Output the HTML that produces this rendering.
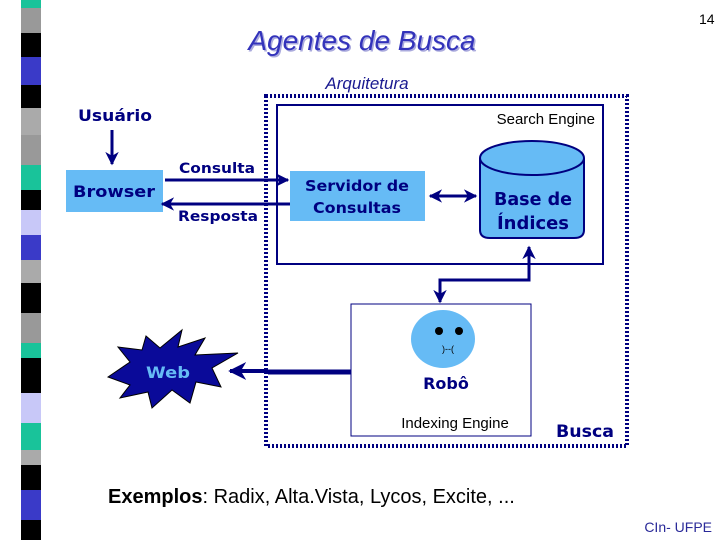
<!DOCTYPE html>
<html><head><meta charset="utf-8"><style>
html,body{margin:0;padding:0;background:#fff;}
svg{display:block;}
text{font-family:"Liberation Sans",sans-serif;}
.v{font-family:"DejaVu Sans","Liberation Sans",sans-serif;font-weight:bold;}
</style></head><body>
<svg width="720" height="540" viewBox="0 0 720 540" xmlns="http://www.w3.org/2000/svg">
<defs>
<marker id="ah" viewBox="0 0 10 10" refX="9" refY="5" markerWidth="4.5" markerHeight="4.5" orient="auto-start-reverse"><path d="M0,0 L10,5 L0,10 L3,5 z" fill="#000080"/></marker>
</defs>
<g>
<rect x="21" y="0" width="20" height="8" fill="#19c39a"/>
<rect x="21" y="8" width="20" height="25" fill="#999"/>
<rect x="21" y="33" width="20" height="24" fill="#000"/>
<rect x="21" y="57" width="20" height="28" fill="#3a3ac8"/>
<rect x="21" y="85" width="20" height="23" fill="#000"/>
<rect x="21" y="108" width="20" height="27" fill="#aaa"/>
<rect x="21" y="135" width="20" height="30" fill="#999"/>
<rect x="21" y="165" width="20" height="25" fill="#19c39a"/>
<rect x="21" y="190" width="20" height="20" fill="#000"/>
<rect x="21" y="210" width="20" height="25" fill="#c8c8f8"/>
<rect x="21" y="235" width="20" height="25" fill="#3a3ac8"/>
<rect x="21" y="260" width="20" height="23" fill="#aaa"/>
<rect x="21" y="283" width="20" height="30" fill="#000"/>
<rect x="21" y="313" width="20" height="30" fill="#999"/>
<rect x="21" y="343" width="20" height="15" fill="#19c39a"/>
<rect x="21" y="358" width="20" height="35" fill="#000"/>
<rect x="21" y="393" width="20" height="30" fill="#c8c8f8"/>
<rect x="21" y="423" width="20" height="27" fill="#19c39a"/>
<rect x="21" y="450" width="20" height="15" fill="#aaa"/>
<rect x="21" y="465" width="20" height="25" fill="#000"/>
<rect x="21" y="490" width="20" height="30" fill="#3a3ac8"/>
<rect x="21" y="520" width="20" height="20" fill="#000"/>
</g>
<text x="699" y="24" font-family="Liberation Serif" font-size="14" fill="#000">14</text>
<text x="362" y="50" font-size="28" font-style="italic" fill="#aaaadd" text-anchor="middle" dx="1.5" dy="1.5">Agentes de Busca</text>
<text x="362" y="50" font-size="28" font-style="italic" fill="#3333bb" text-anchor="middle">Agentes de Busca</text>
<text x="367" y="89" font-size="17" font-style="italic" fill="#1a1a90" text-anchor="middle">Arquitetura</text>
<rect x="266" y="96" width="361" height="350" fill="none" stroke="#000080" stroke-width="4" stroke-dasharray="2 2"/>
<rect x="277" y="105" width="326" height="159" fill="none" stroke="#000080" stroke-width="2"/>
<text x="595" y="124" font-size="15" fill="#000" text-anchor="end">Search Engine</text>
<rect x="290" y="171" width="135" height="50" fill="#66bbf5"/>
<text class="v" x="357" y="191" font-size="15" fill="#000080" text-anchor="middle" textLength="104" lengthAdjust="spacingAndGlyphs">Servidor de</text>
<text class="v" x="357" y="213" font-size="15" fill="#000080" text-anchor="middle" textLength="88" lengthAdjust="spacingAndGlyphs">Consultas</text>
<path d="M480,158 L480,230 Q480,238 490,238 L574,238 Q584,238 584,230 L584,158" fill="#66bbf5" stroke="#000080" stroke-width="2"/>
<ellipse cx="532" cy="158" rx="52" ry="17" fill="#66bbf5" stroke="#000080" stroke-width="2"/>
<text class="v" x="533" y="205" font-size="18" fill="#000080" text-anchor="middle" textLength="78" lengthAdjust="spacingAndGlyphs">Base de</text>
<text class="v" x="533" y="229" font-size="18" fill="#000080" text-anchor="middle" textLength="72" lengthAdjust="spacingAndGlyphs">Índices</text>
<line x1="430" y1="196" x2="476" y2="196" stroke="#000080" stroke-width="3" marker-start="url(#ah)" marker-end="url(#ah)"/>
<text class="v" x="115" y="121" font-size="16" fill="#000080" text-anchor="middle" textLength="74" lengthAdjust="spacingAndGlyphs">Usuário</text>
<line x1="112" y1="130" x2="112" y2="164" stroke="#000080" stroke-width="3" marker-end="url(#ah)"/>
<rect x="66" y="170" width="97" height="42" fill="#66bbf5"/>
<text class="v" x="114" y="197" font-size="16" fill="#000080" text-anchor="middle" textLength="82" lengthAdjust="spacingAndGlyphs">Browser</text>
<text class="v" x="217" y="173" font-size="14" fill="#000080" text-anchor="middle" textLength="76" lengthAdjust="spacingAndGlyphs">Consulta</text>
<text class="v" x="218" y="221" font-size="14" fill="#000080" text-anchor="middle" textLength="80" lengthAdjust="spacingAndGlyphs">Resposta</text>
<line x1="165" y1="180" x2="288" y2="180" stroke="#000080" stroke-width="3" marker-end="url(#ah)"/>
<line x1="290" y1="204" x2="162" y2="204" stroke="#000080" stroke-width="3" marker-end="url(#ah)"/>
<polyline points="529,247 529,280 440,280 440,302" fill="none" stroke="#000080" stroke-width="3" marker-start="url(#ah)" marker-end="url(#ah)"/>
<rect x="351" y="304" width="180" height="132" fill="#fff" stroke="#000080" stroke-width="1"/>
<ellipse cx="443" cy="339" rx="32" ry="29" fill="#66bbf5"/>
<circle cx="439" cy="331" r="4" fill="#000"/>
<circle cx="459" cy="331" r="4" fill="#000"/>
<text x="448" y="352" font-size="9" fill="#000" text-anchor="middle">)--(</text>
<text class="v" x="446" y="389" font-size="16" fill="#000080" text-anchor="middle">Robô</text>
<text x="455" y="428" font-size="15" fill="#000" text-anchor="middle">Indexing Engine</text>
<text class="v" x="585" y="437" font-size="17" fill="#000080" text-anchor="middle" textLength="58" lengthAdjust="spacingAndGlyphs">Busca</text>
<line x1="351" y1="372" x2="268" y2="372" stroke="#000080" stroke-width="5"/>
<line x1="268" y1="371" x2="230" y2="371" stroke="#000080" stroke-width="4" marker-end="url(#ah)"/>
<path d="M108,377 L130,362 L118,347 L142,350 L146,336 L160,348 L182,330 L178,347 L205,338 L195,355 L238,353 L212,368 L221,387 L196,382 L190,403 L172,390 L152,408 L148,392 L120,398 L130,385 Z" fill="#0a0a99" stroke="#000" stroke-width="1"/>
<text class="v" x="168" y="378" font-size="16" fill="#66bbf5" text-anchor="middle" textLength="44" lengthAdjust="spacingAndGlyphs">Web</text>
<text x="108" y="503" font-size="20" fill="#000"><tspan font-weight="bold">Exemplos</tspan>: Radix, Alta.Vista, Lycos, Excite, ...</text>
<text x="712" y="532" font-size="14" fill="#2a2a99" text-anchor="end">CIn- UFPE</text>
</svg>
</body></html>
